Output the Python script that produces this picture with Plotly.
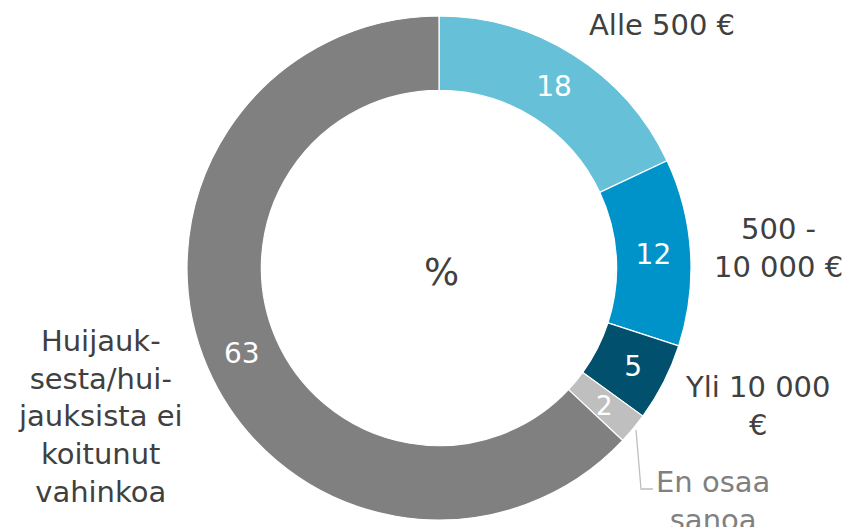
import plotly.graph_objects as go

W, H = 851, 527

labels = ["Alle 500 €", "500 -<br>10 000 €", "Yli 10 000<br>€", "En osaa<br>sanoa",
          "Huijauk-<br>sesta/hui-<br>jauksista ei<br>koitunut<br>vahinkoa"]
values = [18, 12, 5, 2, 63]
colors = ["#66C1D8", "#0093C9", "#00506E", "#BFBFBF", "#808080"]
label_colors = ["#404040", "#404040", "#404040", "#808080", "#404040"]
label_pos_px = [(662, 25), (778, 248), (758, 406), (713, 501), (100, 416)]

FONT = "DejaVu Sans, Verdana, sans-serif"

def px(x, y):
    return x / W, 1 - y / H

cx, cy, R = 439, 268, 252
# the tiny 2 % slice gets its number as an annotation so it is not shrunk
text_pos = ["inside", "inside", "inside", "none", "inside"]
fig = go.Figure(go.Pie(
    values=values,
    labels=[l.replace("<br>", " ") for l in labels],
    text=[str(v) for v in values],
    textinfo="text",
    textposition=text_pos,
    insidetextorientation="horizontal",
    insidetextfont=dict(color="white", size=28, family=FONT),
    marker=dict(colors=colors, line=dict(color="white", width=1.2)),
    sort=False,
    direction="clockwise",
    rotation=0,
    hole=0.705,
    showlegend=False,
    domain=dict(x=[(cx - R) / W, (cx + R) / W], y=[1 - (cy + R) / H, 1 - (cy - R) / H]),
))

annotations = []
for lab, col, (x, y) in zip(labels, label_colors, label_pos_px):
    ax, ay = px(x, y)
    annotations.append(dict(x=ax, y=ay, xref="paper", yref="paper", text=lab,
                            showarrow=False, xanchor="center", yanchor="middle",
                            font=dict(size=29, color=col, family=FONT), align="center"))
mx, my = px(441, 272)
annotations.append(dict(x=mx, y=my, xref="paper", yref="paper", text="%", showarrow=False,
                        xanchor="center", yanchor="middle",
                        font=dict(size=37, color="#404040", family=FONT)))
tx, ty = px(604, 406)
annotations.append(dict(x=tx, y=ty, xref="paper", yref="paper", text=str(values[3]),
                        showarrow=False, xanchor="center", yanchor="middle",
                        font=dict(size=26, color="white", family=FONT)))

p1, p2, p3 = px(636, 430), px(641, 489), px(653, 489)
fig.add_shape(type="path", xref="paper", yref="paper",
              path=f"M {p1[0]} {p1[1]} L {p2[0]} {p2[1]} L {p3[0]} {p3[1]}",
              line=dict(color="#BFBFBF", width=1.3))

fig.update_layout(width=W, height=H, margin=dict(l=0, r=0, t=0, b=0),
                  paper_bgcolor="white", plot_bgcolor="white",
                  annotations=annotations)
fig.write_html("out.html")
